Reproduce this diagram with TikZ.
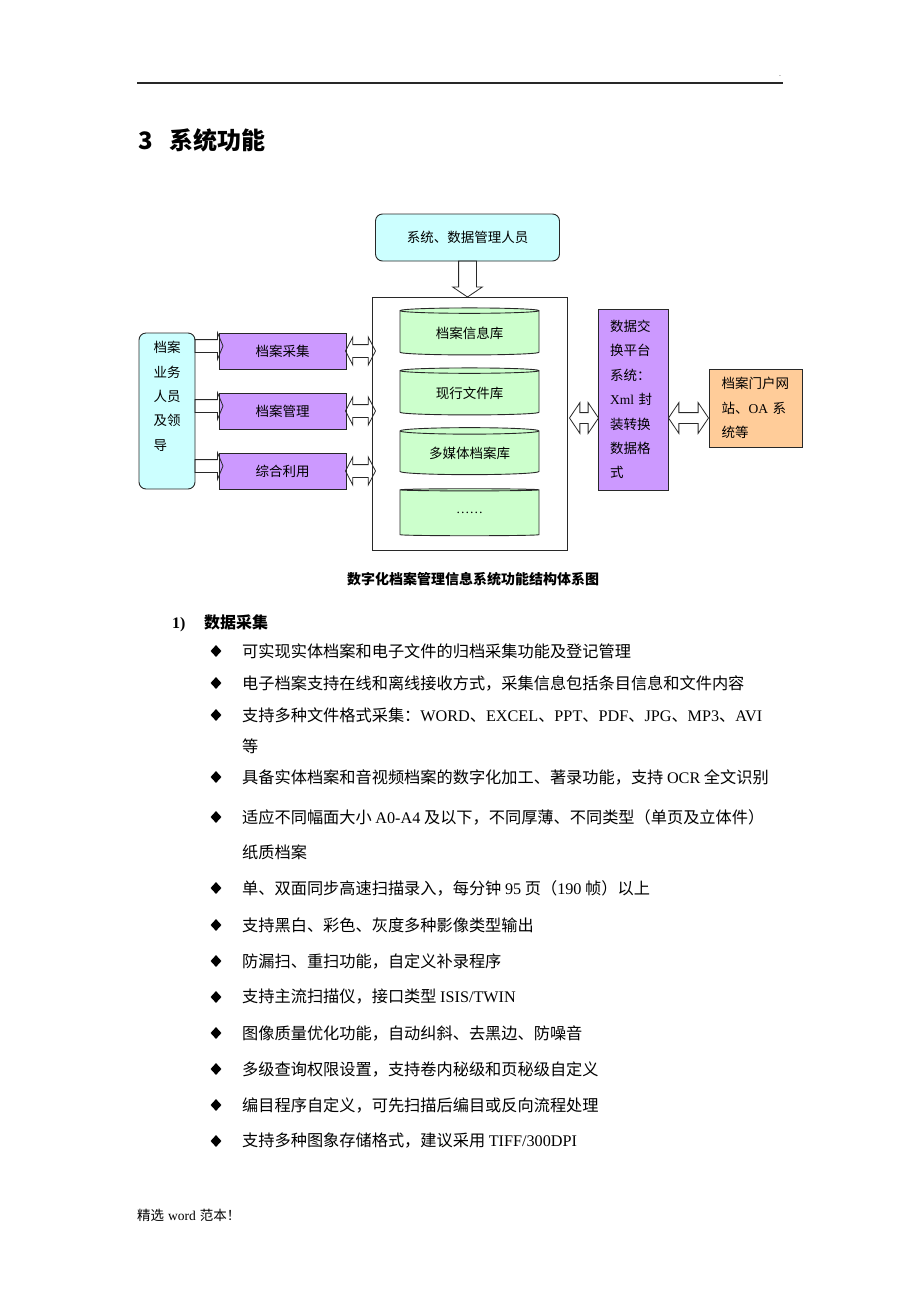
\documentclass[tikz,border=0pt]{standalone}
\usepackage{fontspec}
\setmainfont{Noto Sans CJK SC}
\newfontfamily\tnr{Liberation Serif}
\usetikzlibrary{shapes.geometric,shapes.arrows,calc,positioning}

\definecolor{boxcyan}{RGB}{204,255,255}
\definecolor{boxgreen}{RGB}{204,255,204}
\definecolor{boxpurple}{RGB}{204,153,255}
\definecolor{boxorange}{RGB}{255,204,153}
\definecolor{edge}{RGB}{40,40,40}

\newcommand\en[1]{{\tnr #1}}
\newcommand\dgfont{\fontsize{13.5pt}{24.4pt}\selectfont}
\newcommand\bodyfont{\fontsize{16.2pt}{20pt}\selectfont}

\tikzset{
  box/.style={draw=edge, line width=0.9pt, inner sep=0pt, outer sep=0pt, font=\dgfont},
  roundbox/.style={box, rounded corners=7pt, fill=boxcyan},
  funcbox/.style={box, fill=boxpurple, minimum width=127pt, minimum height=36pt},
  dbcyl/.style={box, cylinder, shape border rotate=90, fill=boxgreen,
    minimum width=139pt, minimum height=47pt, aspect=0.08},
  rarrow/.style={single arrow, draw=edge, line width=0.8pt, inner xsep=0pt, inner ysep=6pt, outer sep=0pt,
    minimum height=28pt, single arrow head extend=7pt, single arrow tip angle=135},
  darrow/.style={double arrow, draw=edge, line width=0.8pt, inner xsep=0pt, inner ysep=6pt, outer sep=0pt,
    double arrow head extend=7.5pt, double arrow tip angle=125},
  bullet/.style={diamond, fill=black, inner sep=0pt, minimum width=11pt, minimum height=12pt},
  bodyline/.style={anchor=west, inner sep=0pt, font=\bodyfont},
  boxtext/.style={inner sep=0pt, align=left, font=\dgfont},
}

\begin{document}
\begin{tikzpicture}[x=1pt,y=-1pt]
\useasboundingbox[fill=white] (0,0) rectangle (920,1302);

% page header
\draw[edge, line width=1.4pt] (137,83) -- (783,83);
\node[inner sep=0pt, font=\fontsize{7pt}{7pt}\selectfont] (dot) at (780,76) {.};
\node[anchor=west, inner sep=0pt, font=\fontsize{24pt}{24pt}\selectfont\bfseries] (title) at (138,140) {3\hspace{17pt}系统功能};

% diagram boxes
\node[roundbox, minimum width=184pt, minimum height=47pt] (mgr) at (467.5,237.5) {系统、数据管理人员};
\node[box, minimum width=195pt, minimum height=253pt] (store) at (469.5,423.5) {};
\foreach \y/\name/\txt in {333/db1/档案信息库, 393/db2/现行文件库, 453/db3/多媒体档案库, 513/db4/\en{……}}
  \node[dbcyl] (\name) at (469.5,\y) {\txt};

\node[roundbox, minimum width=56pt, minimum height=156pt] (staff) at (167,411) {};
\node[boxtext, text width=27pt, anchor=north] (stafftxt) at (167,341) {档案\\业务\\人员\\及领\\导};

\node[funcbox] (cj) at (282.5,351) {档案采集};
\node[funcbox] (gl) at (282.5,411) {档案管理};
\node[funcbox] (ly) at (282.5,471) {综合利用};

\node[box, fill=boxpurple, minimum width=70pt, minimum height=181pt, align=left, text width=46pt] (xchg) at (633,399.5)
  {数据交\\换平台\\系统：\\\en{Xml} 封\\装转换\\数据格\\式};
\node[box, fill=boxorange, minimum width=93pt, minimum height=78pt, align=left, text width=68pt] (portal) at (755.5,408)
  {档案门户网\\站、\en{OA} 系\\统等};

% block arrows
\node[single arrow, draw=edge, line width=0.8pt, inner xsep=0pt, inner ysep=8.5pt, outer sep=0pt, rotate=-90, anchor=tail,
  minimum height=36pt, single arrow head extend=6pt, single arrow tip angle=112] (down) at (mgr.south) {};
\foreach \f in {cj,gl,ly} {
  \node[rarrow, anchor=tail] (in-\f) at ([yshift=5pt]staff.east |- \f.west) {};
  \node[darrow, minimum height=30pt] (io-\f) at ($(\f.east)!.5!(\f.east -| store.west)+(1.5,0)$) {};
}
\coordinate (xrow) at (0,418);
\node[darrow, inner ysep=5pt, double arrow head extend=10pt, double arrow tip angle=112, minimum height=29pt] (sx)
  at ($(store.east |- xrow)!.5!(xchg.west |- xrow)+(1.5,0)$) {};
\node[darrow, inner ysep=5pt, double arrow head extend=10pt, double arrow tip angle=112, minimum height=40pt] (xp)
  at ($(xchg.east |- xrow)!.5!(portal.west |- xrow)$) {};

% caption and list
\node[inner sep=0pt, font=\fontsize{14pt}{14pt}\selectfont\bfseries] (caption) at (473,579) {数字化档案管理信息系统功能结构体系图};
\node[anchor=base west, inner sep=0pt, font=\fontsize{16pt}{16pt}\selectfont\tnr\bfseries] (num) at (172,628) {1)};
\node[anchor=base west, inner sep=0pt, font=\fontsize{16pt}{16pt}\selectfont\bfseries] (sec) at (204,628) {数据采集};

\foreach \y/\txt [count=\i] in {
  651/{可实现实体档案和电子文件的归档采集功能及登记管理},
  683/{电子档案支持在线和离线接收方式，采集信息包括条目信息和文件内容},
  715/{支持多种文件格式采集：\en{WORD}、\en{EXCEL}、\en{PPT}、\en{PDF}、\en{JPG}、\en{MP3}、\en{AVI}},
  777/{具备实体档案和音视频档案的数字化加工、著录功能，支持 \en{OCR} 全文识别},
  817/{适应不同幅面大小 \en{A0-A4} 及以下，不同厚薄、不同类型（单页及立体件）},
  888/{单、双面同步高速扫描录入，每分钟 \en{95} 页（\en{190} 帧）以上},
  925/{支持黑白、彩色、灰度多种影像类型输出},
  961/{防漏扫、重扫功能，自定义补录程序},
  997/{支持主流扫描仪，接口类型 \en{ISIS/TWIN}},
  1033/{图像质量优化功能，自动纠斜、去黑边、防噪音},
  1069/{多级查询权限设置，支持卷内秘级和页秘级自定义},
  1105/{编目程序自定义，可先扫描后编目或反向流程处理},
  1141/{支持多种图象存储格式，建议采用 \en{TIFF/300DPI}}} {
  \node[bullet] (b\i) at (216,\y) {};
  \node[bodyline] (t\i) at (242,\y) {\txt};
}
\node[bodyline] (t3b) at (242,746) {等};
\node[bodyline] (t5b) at (242,852) {纸质档案};

% footer
\node[anchor=west, inner sep=0pt, font=\fontsize{13.5pt}{13.5pt}\selectfont] (foot) at (137,1215) {精选\hspace{4pt}\en{word}\hspace{4pt}范本！};
\end{tikzpicture}
\end{document}
